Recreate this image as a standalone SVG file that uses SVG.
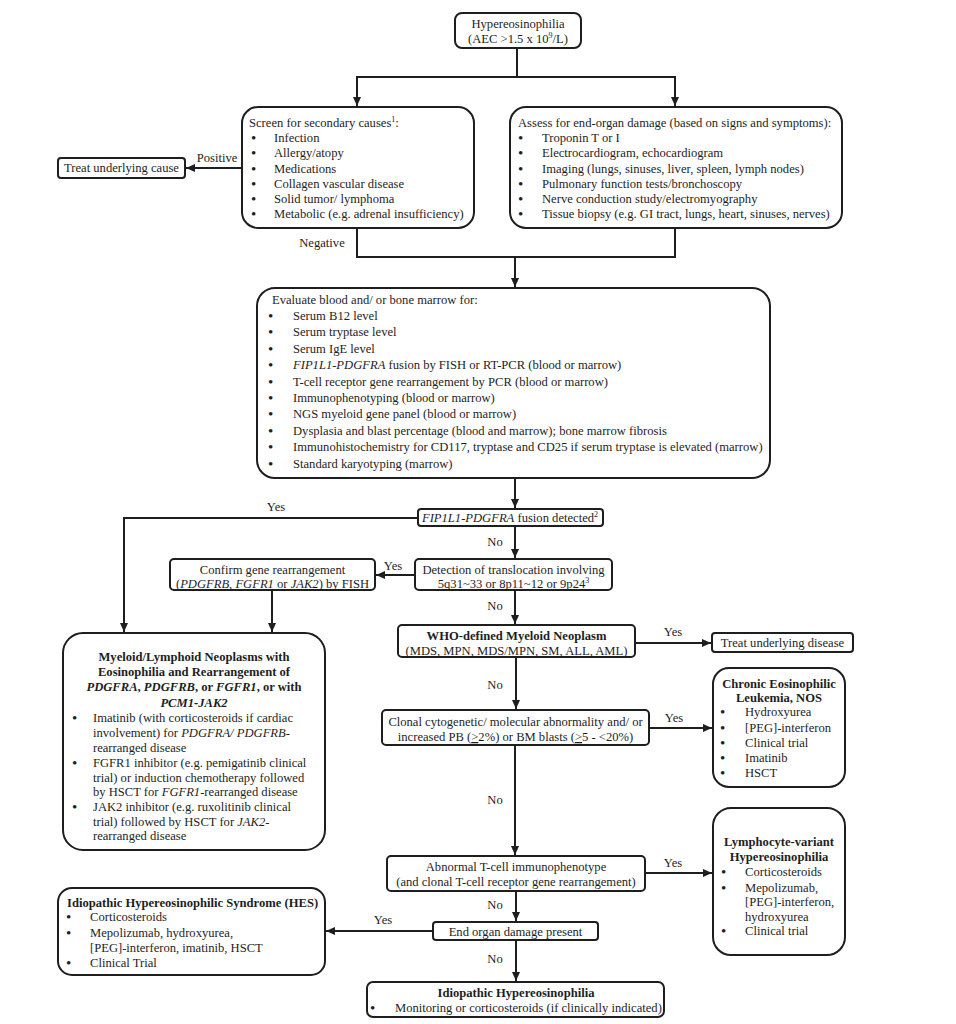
<svg xmlns="http://www.w3.org/2000/svg" width="956" height="1024" viewBox="0 0 956 1024">
<style>
.bx{fill:#fff;stroke:#1e1e1e;stroke-width:2}
.ln{fill:none;stroke:#1e1e1e;stroke-width:2}
text{font-family:"Liberation Serif","Times New Roman",serif;font-size:12.6px;fill:#1e1e1e}
.c{text-anchor:middle}
.b{font-weight:bold}
.i{font-style:italic}
.sup{font-size:8px}
.u{text-decoration:underline}
.d{font-size:15px}
</style>
<defs>
<marker id="ah" markerUnits="userSpaceOnUse" markerWidth="9" markerHeight="8" refX="9" refY="4" orient="auto">
<path d="M0,0 L9,4 L0,8 z" fill="#1e1e1e"/>
</marker>
</defs>
<rect width="956" height="1024" fill="#fff"/>

<g id="connectors">
<path class="ln" d="M517,48 V77"/>
<path class="ln" d="M517,77 H357 V106" marker-end="url(#ah)"/>
<path class="ln" d="M517,77 H675 V106" marker-end="url(#ah)"/>
<path class="ln" d="M242,168 H186" marker-end="url(#ah)"/>
<text class="c" x="217" y="162">Positive</text>
<path class="ln" d="M357,228 V257 H675 V228"/>
<text class="c" x="322" y="247">Negative</text>
<path class="ln" d="M515,257 V287" marker-end="url(#ah)"/>
<path class="ln" d="M515,478 V508" marker-end="url(#ah)"/>
<path class="ln" d="M418,518 H124 V632" marker-end="url(#ah)"/>
<text class="c" x="276" y="511">Yes</text>
<path class="ln" d="M515,526 V558" marker-end="url(#ah)"/>
<text class="c" x="495" y="546">No</text>
<path class="ln" d="M415,575 H376" marker-end="url(#ah)"/>
<text class="c" x="393" y="570">Yes</text>
<path class="ln" d="M272,590 V632" marker-end="url(#ah)"/>
<path class="ln" d="M515,590 V624" marker-end="url(#ah)"/>
<text class="c" x="495" y="610">No</text>
<path class="ln" d="M635,643 H711" marker-end="url(#ah)"/>
<text class="c" x="673" y="636">Yes</text>
<path class="ln" d="M516,657 V709" marker-end="url(#ah)"/>
<text class="c" x="495" y="689">No</text>
<path class="ln" d="M649,728 H712" marker-end="url(#ah)"/>
<text class="c" x="674" y="722">Yes</text>
<path class="ln" d="M515,745 V855" marker-end="url(#ah)"/>
<text class="c" x="495" y="804">No</text>
<path class="ln" d="M645,873 H712" marker-end="url(#ah)"/>
<text class="c" x="673" y="867">Yes</text>
<path class="ln" d="M516,891 V921" marker-end="url(#ah)"/>
<text class="c" x="495" y="909">No</text>
<path class="ln" d="M433,931 H326" marker-end="url(#ah)"/>
<text class="c" x="383" y="924">Yes</text>
<path class="ln" d="M516,940 V981" marker-end="url(#ah)"/>
<text class="c" x="495" y="963">No</text>
</g>

<g id="n-start">
<rect class="bx" x="455" y="13" width="126" height="35" rx="7"/>
<text class="c" x="518" y="28">Hypereosinophilia</text>
<text class="c" x="518" y="43">(AEC &gt;1.5 x 10<tspan class="sup" dy="-5">9</tspan><tspan dy="5">/L)</tspan></text>
</g>

<g id="n-screen">
<rect class="bx" x="242" y="107" width="232" height="121" rx="16"/>
<text x="249" y="127">Screen for secondary causes<tspan class="sup" dy="-5">1</tspan><tspan dy="5">:</tspan></text>
<text class="d" x="251" y="143">•</text><text x="274" y="142">Infection</text>
<text class="d" x="251" y="158">•</text><text x="274" y="157">Allergy/atopy</text>
<text class="d" x="251" y="174">•</text><text x="274" y="173">Medications</text>
<text class="d" x="251" y="189">•</text><text x="274" y="188">Collagen vascular disease</text>
<text class="d" x="251" y="204">•</text><text x="274" y="203">Solid tumor/ lymphoma</text>
<text class="d" x="251" y="219">•</text><text x="274" y="218">Metabolic (e.g. adrenal insufficiency)</text>
</g>

<g id="n-treat-cause">
<rect class="bx" x="58" y="158" width="127" height="20" rx="3"/>
<text class="c" x="121.5" y="172">Treat underlying cause</text>
</g>

<g id="n-assess">
<rect class="bx" x="510" y="107" width="332" height="121" rx="16"/>
<text x="518" y="127">Assess for end-organ damage (based on signs and symptoms):</text>
<text class="d" x="518" y="143">•</text><text x="542" y="142">Troponin T or I</text>
<text class="d" x="518" y="158">•</text><text x="542" y="157">Electrocardiogram, echocardiogram</text>
<text class="d" x="518" y="174">•</text><text x="542" y="173">Imaging (lungs, sinuses, liver, spleen, lymph nodes)</text>
<text class="d" x="518" y="189">•</text><text x="542" y="188">Pulmonary function tests/bronchoscopy</text>
<text class="d" x="518" y="204">•</text><text x="542" y="203">Nerve conduction study/electromyography</text>
<text class="d" x="518" y="219">•</text><text x="542" y="218">Tissue biopsy (e.g. GI tract, lungs, heart, sinuses, nerves)</text>
</g>

<g id="n-evaluate">
<rect class="bx" x="257" y="288" width="513" height="190" rx="18"/>
<text x="272" y="303.5">Evaluate blood and/ or bone marrow for:</text>
<text class="d" x="268" y="320.9">•</text><text x="293" y="319.9">Serum B12 level</text>
<text class="d" x="268" y="337.3">•</text><text x="293" y="336.3">Serum tryptase level</text>
<text class="d" x="268" y="353.7">•</text><text x="293" y="352.7">Serum IgE level</text>
<text class="d" x="268" y="370.1">•</text><text x="293" y="369.1"><tspan class="i">FIP1L1-PDGFRA</tspan> fusion by FISH or RT-PCR (blood or marrow)</text>
<text class="d" x="268" y="386.5">•</text><text x="293" y="385.5">T-cell receptor gene rearrangement by PCR (blood or marrow)</text>
<text class="d" x="268" y="402.9">•</text><text x="293" y="401.9">Immunophenotyping (blood or marrow)</text>
<text class="d" x="268" y="419.3">•</text><text x="293" y="418.3">NGS myeloid gene panel (blood or marrow)</text>
<text class="d" x="268" y="435.7">•</text><text x="293" y="434.7">Dysplasia and blast percentage (blood and marrow); bone marrow fibrosis</text>
<text class="d" x="268" y="452.1">•</text><text x="293" y="451.1">Immunohistochemistry for CD117, tryptase and CD25 if serum tryptase is elevated (marrow)</text>
<text class="d" x="268" y="468.5">•</text><text x="293" y="467.5">Standard karyotyping (marrow)</text>
</g>

<g id="n-fip1l1">
<rect class="bx" x="418" y="509" width="185" height="17" rx="3"/>
<text class="c" x="510" y="522"><tspan class="i">FIP1L1-PDGFRA</tspan> fusion detected<tspan class="sup" dy="-5">2</tspan></text>
</g>

<g id="n-detection">
<rect class="bx" x="415" y="559" width="197" height="31" rx="4"/>
<text class="c" x="513.5" y="574">Detection of translocation involving</text>
<text class="c" x="513.5" y="588">5q31~33 or 8p11~12 or 9p24<tspan class="sup" dy="-5">3</tspan></text>
</g>

<g id="n-confirm">
<rect class="bx" x="170" y="559" width="205" height="31" rx="4"/>
<text class="c" x="272.5" y="574">Confirm gene rearrangement</text>
<text class="c" x="272.5" y="588">(<tspan class="i">PDGFRB</tspan>, <tspan class="i">FGFR1</tspan> or <tspan class="i">JAK2</tspan>) by FISH</text>
</g>

<g id="n-mln">
<rect class="bx" x="63" y="633" width="262" height="217" rx="20"/>
<text class="c b" x="194" y="661">Myeloid/Lymphoid Neoplasms with</text>
<text class="c b" x="194" y="676">Eosinophilia and Rearrangement of</text>
<text class="c b" x="194" y="691"><tspan class="i">PDGFRA</tspan>, <tspan class="i">PDGFRB</tspan>, or <tspan class="i">FGFR1</tspan>, or with</text>
<text class="c b i" x="194" y="707">PCM1-JAK2</text>
<text class="d" x="72" y="723">•</text><text x="93" y="722">Imatinib (with corticosteroids if cardiac</text>
<text x="93" y="737">involvement) for <tspan class="i">PDGFRA/ PDGFRB</tspan>-</text>
<text x="93" y="752">rearranged disease</text>
<text class="d" x="72" y="768">•</text><text x="93" y="767">FGFR1 inhibitor (e.g. pemigatinib clinical</text>
<text x="93" y="782">trial) or induction chemotherapy followed</text>
<text x="93" y="796">by HSCT for <tspan class="i">FGFR1</tspan>-rearranged disease</text>
<text class="d" x="72" y="812">•</text><text x="93" y="811">JAK2 inhibitor (e.g. ruxolitinib clinical</text>
<text x="93" y="826">trial) followed by HSCT for <tspan class="i">JAK2</tspan>-</text>
<text x="93" y="840">rearranged disease</text>
</g>

<g id="n-who">
<rect class="bx" x="398" y="625" width="237" height="32" rx="4"/>
<text class="c b" x="516.5" y="640">WHO-defined Myeloid Neoplasm</text>
<text class="c" x="516.5" y="655">(MDS, MPN, MDS/MPN, SM, ALL, AML)</text>
</g>

<g id="n-treat-disease">
<rect class="bx" x="712" y="633" width="141" height="19" rx="3"/>
<text class="c" x="782.5" y="647">Treat underlying disease</text>
</g>

<g id="n-clonal">
<rect class="bx" x="382" y="710" width="267" height="35" rx="4"/>
<text class="c" x="515.5" y="726">Clonal cytogenetic/ molecular abnormality and/ or</text>
<text class="c" x="515.5" y="741">increased PB (<tspan class="u">&gt;</tspan>2%) or BM blasts (<tspan class="u">&gt;</tspan>5 - &lt;20%)</text>
</g>

<g id="n-cel">
<rect class="bx" x="713" y="668" width="132" height="119" rx="16"/>
<text class="c b" x="779" y="688">Chronic Eosinophilic</text>
<text class="c b" x="779" y="702">Leukemia, NOS</text>
<text class="d" x="720" y="717">•</text><text x="745" y="716">Hydroxyurea</text>
<text class="d" x="720" y="733">•</text><text x="745" y="732">[PEG]-interferon</text>
<text class="d" x="720" y="748">•</text><text x="745" y="747">Clinical trial</text>
<text class="d" x="720" y="763">•</text><text x="745" y="762">Imatinib</text>
<text class="d" x="720" y="778">•</text><text x="745" y="777">HSCT</text>
</g>

<g id="n-tcell">
<rect class="bx" x="387" y="856" width="258" height="35" rx="4"/>
<text class="c" x="516" y="871">Abnormal T-cell immunophenotype</text>
<text class="c" x="516" y="886">(and clonal T-cell receptor gene rearrangement)</text>
</g>

<g id="n-lv">
<rect class="bx" x="713" y="808" width="132" height="147" rx="18"/>
<text class="c b" x="779" y="846">Lymphocyte-variant</text>
<text class="c b" x="779" y="861">Hypereosinophilia</text>
<text class="d" x="721" y="877">•</text><text x="745" y="876">Corticosteroids</text>
<text class="d" x="721" y="893">•</text><text x="745" y="892">Mepolizumab,</text>
<text x="745" y="906">[PEG]-interferon,</text>
<text x="745" y="921">hydroxyurea</text>
<text class="d" x="721" y="936">•</text><text x="745" y="935">Clinical trial</text>
</g>

<g id="n-endorgan">
<rect class="bx" x="433" y="922" width="165" height="18" rx="3"/>
<text class="c" x="515.5" y="936">End organ damage present</text>
</g>

<g id="n-hes">
<rect class="bx" x="58" y="888" width="267" height="87" rx="14"/>
<text class="b" x="67" y="907">Idiopathic Hypereosinophilic Syndrome (HES)</text>
<text class="d" x="66" y="922">•</text><text x="90" y="921">Corticosteroids</text>
<text class="d" x="66" y="938">•</text><text x="90" y="937">Mepolizumab, hydroxyurea,</text>
<text x="90" y="952">[PEG]-interferon, imatinib, HSCT</text>
<text class="d" x="66" y="968">•</text><text x="90" y="967">Clinical Trial</text>
</g>

<g id="n-ih">
<rect class="bx" x="367" y="982" width="297" height="35" rx="6"/>
<text class="c b" x="516" y="997">Idiopathic Hypereosinophilia</text>
<text class="d" x="370" y="1013">•</text><text x="395" y="1012">Monitoring or corticosteroids (if clinically indicated)</text>
</g>
</svg>
